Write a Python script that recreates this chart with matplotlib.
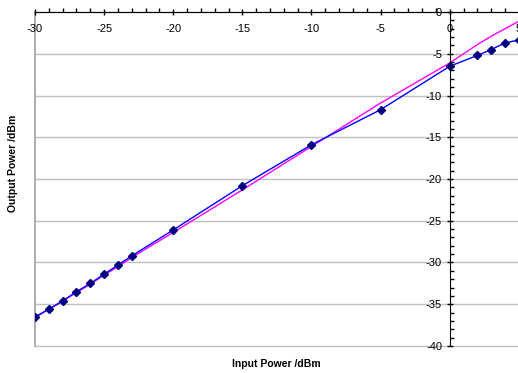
import matplotlib
matplotlib.use('Agg')
import matplotlib.pyplot as plt
from matplotlib.ticker import MultipleLocator

plt.rcParams['font.family'] = ['Liberation Sans', 'DejaVu Sans']

# measured points
input_dbm = [-30, -29, -28, -27, -26, -25, -24, -23, -20, -15, -10, -5, 0, 2, 3, 4, 5]
output_dbm = [-36.5, -35.6, -34.6, -33.5, -32.5, -31.4, -30.3, -29.2,
              -26.1, -20.8, -15.9, -11.7, -6.5, -5.2, -4.5, -3.7, -3.35]
# magenta reference line
ideal_dbm = [-36.6, -35.6, -34.6, -33.6, -32.6, -31.5, -30.5, -29.4,
             -26.4, -21.3, -16.1, -10.9, -6.1, -3.9, -2.9, -2.0, -1.1]

x_ticks = [-30, -25, -20, -15, -10, -5, 0, 5]
y_ticks = [0, -5, -10, -15, -20, -25, -30, -35, -40]

fig = plt.figure(figsize=(5.18, 3.73), dpi=100)
ax = fig.add_axes([0.0676, 0.0724, 0.934, 0.8954])

ax.set_xlim(-30, 5)
ax.set_ylim(-40, 0)

# grey frame + horizontal grid
for yv in y_ticks:
    ax.axhline(yv, color='#c0c0c0', lw=1, zorder=0, clip_on=False)
ax.axvline(-30, color='#a0a0a0', lw=1.2, zorder=0, clip_on=False)

ax.plot(input_dbm, ideal_dbm, color='#ff00ff', lw=1, zorder=2)
ax.plot(input_dbm, output_dbm, color='#0000ff', lw=1, zorder=3,
        marker='D', markersize=4, markerfacecolor='#000080', markeredgecolor='#000080')

# axes crossing at origin
ax.spines['top'].set_visible(False)
ax.spines['right'].set_visible(False)
ax.spines['bottom'].set_position(('data', 0))
ax.spines['left'].set_position(('data', 0))
ax.spines['bottom'].set_zorder(4)
ax.spines['left'].set_zorder(4)

ax.set_xticks(x_ticks)
ax.set_yticks(y_ticks)
ax.set_xticklabels([str(v) for v in x_ticks])
ax.set_yticklabels([str(v) for v in y_ticks])
ax.xaxis.set_minor_locator(MultipleLocator(1))
ax.yaxis.set_minor_locator(MultipleLocator(1))
ax.tick_params(which='major', direction='inout', length=5, width=1, labelsize=8)
ax.tick_params(axis='x', which='major', pad=6)
ax.tick_params(axis='y', which='major', pad=3)
ax.tick_params(which='minor', direction='in', length=3, width=1)

fig.text(0.533, 0.025, 'Input Power /dBm', ha='center', va='center',
         fontsize=7.5, fontweight='bold')
fig.text(0.025, 0.563, 'Output Power /dBm', ha='center', va='center',
         rotation=90, fontsize=7.5, fontweight='bold')

fig.savefig('out.png', dpi=100)
